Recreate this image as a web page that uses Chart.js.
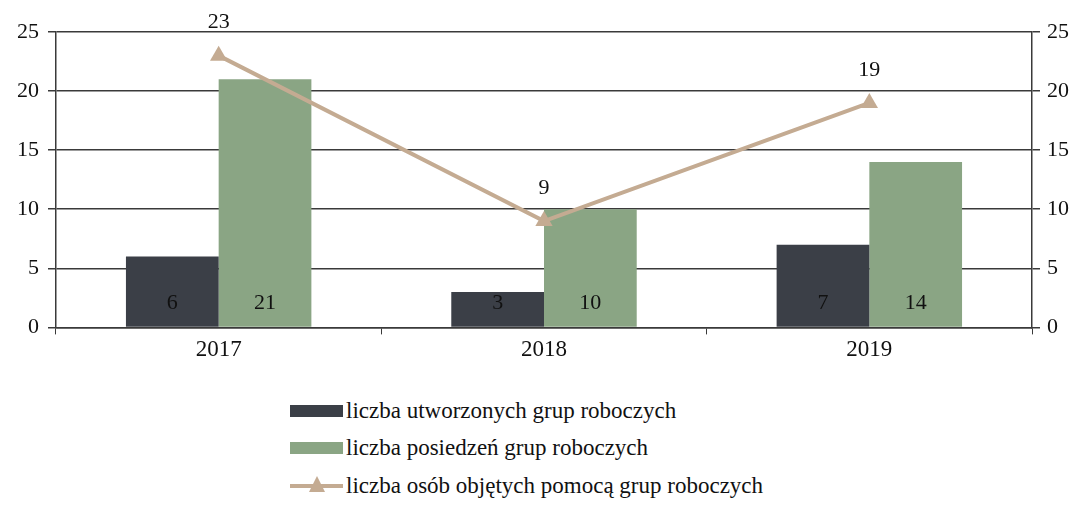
<!DOCTYPE html>
<html>
<head>
<meta charset="utf-8">
<script src="https://cdn.jsdelivr.net/npm/chart.js@4.4.1/dist/chart.umd.min.js"></script>
<style>
  body { margin: 0; background: #fff; font-family: "Liberation Serif", serif; }
  #wrap { position: relative; width: 1083px; height: 370px; }
  #legend { position: absolute; left: 290px; top: 392px; font-size: 23px; color: #111; }
  .item { height: 37.5px; display: flex; align-items: center; }
  .box { width: 53px; height: 12px; margin-right: 3px; }
  .lineKey { position: relative; width: 53px; height: 14px; margin-right: 3px; }
  .lineKey .bar { position: absolute; left: 0; right: 0; top: 5px; height: 4px; }
  .lineKey .tri { position: absolute; left: 19px; top: -3px; width: 0; height: 0;
    border-left: 8px solid transparent; border-right: 8px solid transparent; }
</style>
</head>
<body>
<div id="wrap"><canvas id="myChart"></canvas></div>
<div id="legend"></div>
<script>
// lata i wartości
const years = ["2017", "2018", "2019"];
const utworzone = [6, 3, 7];
const posiedzenia = [21, 10, 14];
const osoby = [23, 9, 19];
const yTicks = [0, 5, 10, 15, 20, 25];

const darkCol = '#3b3f47';
const greenCol = '#8aa584';
const tanCol = '#c4ab92';

// podpisy wartości: słupki na dole, linia nad punktem
const valueLabels = {
    id: 'valueLabels',
    afterDatasetsDraw(chart) {
        const ctx = chart.ctx;
        ctx.save();
        ctx.font = '22px "Liberation Serif"';
        ctx.fillStyle = '#111';
        ctx.textAlign = 'center';
        ctx.textBaseline = 'middle';
        chart.data.datasets.forEach((ds, i) => {
            const meta = chart.getDatasetMeta(i);
            meta.data.forEach((el, j) => {
                if (ds.type === 'line') {
                    ctx.fillText(ds.data[j], el.x, el.y - 33);
                } else {
                    ctx.fillText(ds.data[j], el.x, chart.scales.y.bottom - 24);
                }
            });
        });
        ctx.restore();
    }
};

var ctx = document.getElementById('myChart').getContext('2d');
var chart = new Chart(ctx, {
    type: 'bar',
    data: {
        labels: years,
        datasets: [{
            type: 'line',
            label: "liczba osób objętych pomocą grup roboczych",
            data: osoby,
            borderColor: tanCol,
            backgroundColor: tanCol,
            borderWidth: 4,
            pointStyle: 'triangle',
            pointRadius: 10,
            pointBorderWidth: 0,
            yAxisID: 'y1',
            order: 0
        }, {
            label: "liczba utworzonych grup roboczych",
            data: utworzone,
            backgroundColor: darkCol,
            order: 1
        }, {
            label: "liczba posiedzeń grup roboczych",
            data: posiedzenia,
            backgroundColor: greenCol,
            order: 1
        }]
    },
    options: {
        responsive: true,
        maintainAspectRatio: false,
        animation: false,
        layout: { padding: { left: 8, right: 7, top: 32, bottom: 4 } },
        datasets: { bar: { categoryPercentage: 0.57, barPercentage: 1 } },
        plugins: { legend: { display: false }, tooltip: { enabled: false } },
        scales: {
            x: {
                grid: { drawOnChartArea: false, drawTicks: true, tickLength: 7, color: '#3a3a3a', offset: true },
                border: { color: '#3a3a3a', width: 1.5 },
                ticks: { color: '#111', font: { family: 'Liberation Serif', size: 23 }, padding: 2 }
            },
            y: {
                min: 0, max: 25,
                afterBuildTicks: s => { s.ticks = yTicks.map(v => ({ value: v })); },
                grid: { color: '#3a3a3a', lineWidth: 1.5, tickLength: 8 },
                border: { color: '#3a3a3a', width: 1.5 },
                ticks: { color: '#111', font: { family: 'Liberation Serif', size: 22 }, padding: 9 }
            },
            y1: {
                position: 'right',
                min: 0, max: 25,
                afterBuildTicks: s => { s.ticks = yTicks.map(v => ({ value: v })); },
                grid: { drawOnChartArea: false, color: '#3a3a3a', lineWidth: 1.5, tickLength: 8 },
                border: { color: '#3a3a3a', width: 1.5 },
                ticks: { color: '#111', font: { family: 'Liberation Serif', size: 22 }, padding: 7 }
            }
        }
    },
    plugins: [valueLabels]
});

// legenda w kolumnie pod wykresem
const legend = document.getElementById('legend');
[1, 2, 0].forEach(i => {
    const ds = chart.data.datasets[i];
    const row = document.createElement('div');
    row.className = 'item';
    let key;
    if (ds.type === 'line') {
        key = `<span class="lineKey"><span class="bar" style="background:${ds.borderColor}"></span>` +
              `<span class="tri" style="border-bottom:16px solid ${ds.borderColor}"></span></span>`;
    } else {
        key = `<span class="box" style="background:${ds.backgroundColor}"></span>`;
    }
    row.innerHTML = key + `<span>${ds.label}</span>`;
    legend.appendChild(row);
});
</script>
</body>
</html>
